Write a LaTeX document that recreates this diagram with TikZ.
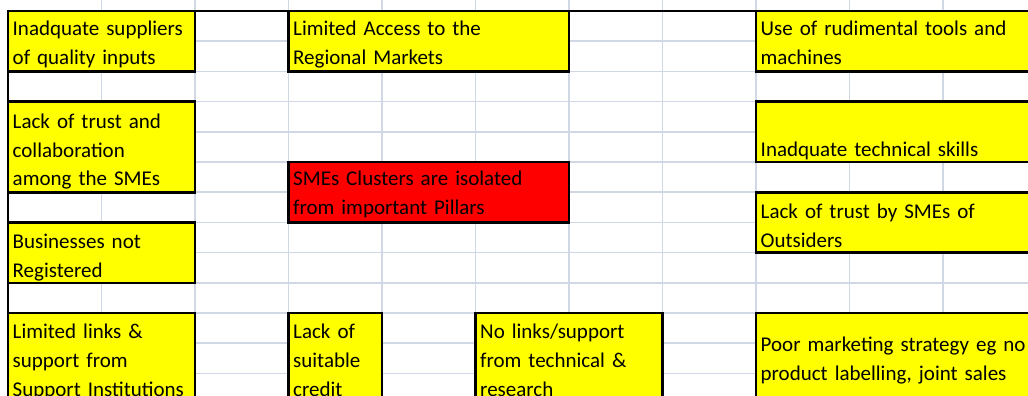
\documentclass[tikz,border=0pt]{standalone}
\usepackage{fontspec}
\setmainfont{Carlito}
\usepackage{tikz}
\usetikzlibrary{positioning, calc}

\definecolor{gridline}{HTML}{D0D7E5}
\definecolor{cellyellow}{HTML}{FFFF00}
\definecolor{cellred}{HTML}{FF0000}

\tikzset{
	every node/.style={
		align=left,
	},
}
\tikzstyle{every cell} = [line width=2.6pt, draw=black, fill=cellyellow]
\tikzstyle{every issue} = [line width=2.6pt, draw=black, fill=cellred]
\tikzstyle{every gridline} = [gridline, line width=1.6pt]
\tikzstyle{cell text} = [anchor=base west, inner sep=0pt, text width=300pt, font=\fontsize{21}{29}\selectfont]

\begin{document}
\begin{tikzpicture}[x=1pt, y=-1pt]
		\useasboundingbox (0,0) rectangle (1028,396);
		
		% sheet grid
		\foreach \c in {1,...,11}
			\draw[every gridline] ({8+93.5*\c},0) -- ({8+93.5*\c},396);
		\foreach \r in {1,...,13}
			\draw[every gridline] (8,{11+30.2*\r}) -- (1028,{11+30.2*\r});
		\draw[line width=2.6pt] (8,396) -- (8,11) -- (1028,11);  % outer frame of the sheet
		
		% left column
		\path[every cell] (8,11) rectangle (195,71.4);
		\path[every cell] (8,101.6) rectangle (195,192.2);
		\path[every cell] (8,222.4) rectangle (195,282.8);
		\path[every cell] (8,313) rectangle (195,410);
		
		% middle
		\path[every cell] (288.5,11) rectangle (569,71.4);
		\path[every issue] (288.5,162) rectangle (569,222.4);
		\path[every cell] (288.5,313) rectangle (382,410);
		\path[every cell] (475.5,313) rectangle (662.5,410);
		
		% right column
		\path[every cell] (756,11) rectangle (1040,71.4);
		\path[every cell] (756,101.6) rectangle (1040,162);
		\path[every cell] (756,192.2) rectangle (1040,252.6);
		\path[every cell] (756,313) rectangle (1040,410);
		
		\node[cell text] (suppliers) at (12.5,36) {Inadquate suppliers \\ of quality inputs};
		\node[cell text] (trust) at (12.5,128) {Lack of trust and \\ collaboration \\ among the SMEs};
		\node[cell text] (registered) at (12.5,248) {Businesses not \\ Registered};
		\node[cell text] (institutions) at (12.5,338) {Limited links \& \\ support from \\ Support Institutions};
		
		\node[cell text] (markets) at (293,36) {Limited Access to the \\ Regional Markets};
		\node[cell text] (isolated) at (293,185) {SMEs Clusters are isolated \\ from important Pillars};
		\node[cell text] (credit) at (293,338) {Lack of \\ suitable \\ credit};
		\node[cell text] (research) at (480,338) {No links/support \\ from technical \& \\ research};
		
		\node[cell text] (tools) at (760.5,36) {Use of rudimental tools and \\ machines};
		\node[cell text] (skills) at (760.5,156) {Inadquate technical skills};
		\node[cell text] (outsiders) at (760.5,218) {Lack of trust by SMEs of \\ Outsiders};
		\node[cell text] (marketing) at (760.5,351) {Poor marketing strategy eg no \\ product labelling, joint sales};
		
	\end{tikzpicture}
\end{document}
